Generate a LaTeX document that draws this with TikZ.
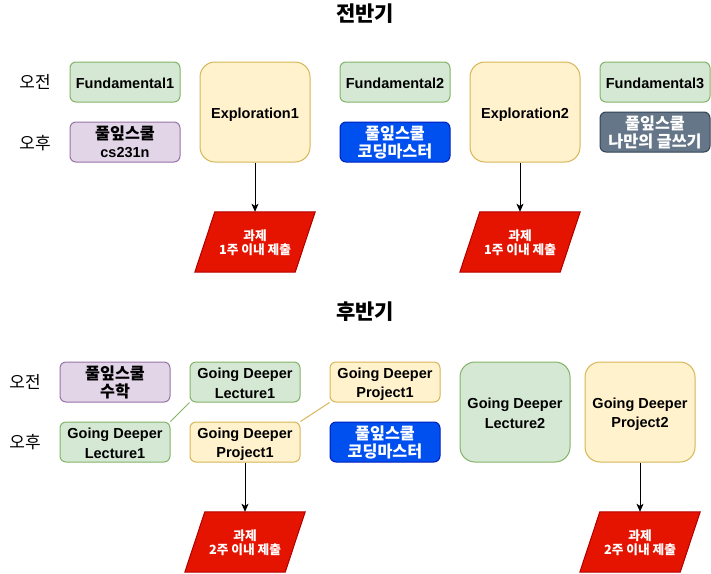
\documentclass[tikz,border=0pt]{standalone}
\usepackage{fontspec}
\setmainfont{Liberation Sans}
\newfontfamily\kr{Noto Sans CJK KR}
\usetikzlibrary{arrows.meta,calc,backgrounds}
\definecolor{gfill}{HTML}{D5E8D4}\definecolor{gline}{HTML}{82B366}
\definecolor{pfill}{HTML}{E1D5E7}\definecolor{pline}{HTML}{9673A6}
\definecolor{yfill}{HTML}{FFF2CC}\definecolor{yline}{HTML}{D6B656}
\definecolor{bfill}{HTML}{0050EF}\definecolor{bline}{HTML}{001DBC}
\definecolor{sfill}{HTML}{647687}\definecolor{sline}{HTML}{314354}
\definecolor{rfill}{HTML}{E51400}\definecolor{rline}{HTML}{B20000}
\newcommand{\sT}{\rule[-2.2pt]{0pt}{17.4pt}}
\newcommand{\sK}{\rule[-1.2pt]{0pt}{14pt}}
\newcommand{\hk}{\kr\fontsize{16.2}{17.5}\selectfont}
\tikzset{
  box/.style={draw, line width=1pt, rounded corners=6pt, align=center, inner sep=0pt,
    font=\bfseries\fontsize{14.5}{17.5}\selectfont, text=black,
    minimum width=110pt, minimum height=40pt},
  bigbox/.style={minimum height=100pt, rounded corners=15pt},
  gbox/.style={box, fill=gfill, draw=gline},
  pbox/.style={box, fill=pfill, draw=pline},
  ybox/.style={box, fill=yfill, draw=yline},
  bbox/.style={box, fill=bfill, draw=bline, text=white},
  sbox/.style={box, fill=sfill, draw=sline, text=white},
  task/.style={inner sep=0pt, minimum width=120pt, minimum height=60pt, align=center,
    text=white, font=\kr\bfseries\fontsize{12.7}{14}\selectfont},
  taskshape/.style={fill=rfill, draw=rline, line width=1pt},
  arr/.style={line width=1pt, -{Stealth[length=8pt,width=7pt,inset=2pt]}},
  lbl/.style={font=\kr\fontsize{17}{19}\selectfont, inner sep=0pt},
  ttl/.style={font=\kr\bfseries\fontsize{21}{24}\selectfont, inner sep=0pt},
}
\newcommand{\para}[1]{%
  \begin{scope}[on background layer]
    \draw[taskshape] ($(#1.north west)+(20,0)$) -- (#1.north east)
      -- ($(#1.south east)+(-20,0)$) -- (#1.south west) -- cycle;
  \end{scope}}
\begin{document}
\begin{tikzpicture}[x=1pt,y=-1pt]
\useasboundingbox (0,0) rectangle (711,573);
% ---------- first half
\node[ttl] (t1) at (365,14) {전반기};
\node[lbl] (am1) at (35,82) {오전};
\node[lbl] (pm1) at (35,143) {오후};
\node[gbox] (f1) at (125,82) {\sT Fundamental1};
\node[pbox] (cs) at (125,142) {\sT\hk 풀잎스쿨\\\sT cs231n};
\node[ybox,bigbox] (e1) at (255,112) {\sT Exploration1};
\node[gbox] (f2) at (395,82) {\sT Fundamental2};
\node[bbox] (cm1) at (395,142) {\sT\hk 풀잎스쿨\\\sT\hk 코딩마스터};
\node[ybox,bigbox] (e2) at (525,112) {\sT Exploration2};
\node[gbox] (f3) at (655,82) {\sT Fundamental3};
\node[sbox] (wr) at (655,132) {\sT\hk 풀잎스쿨\\\sT\hk 나만의 글쓰기};
\node[task] (h1) at (255,242) {\sK 과제\\\sK\kr 1주 이내 제출};
\para{h1}
\node[task] (h2) at (520,242) {\sK 과제\\\sK\kr 1주 이내 제출};
\para{h2}
\draw[arr] (e1.south) -- (h1.north);
\draw[arr] (h2.north |- e2.south) -- (h2.north);
% ---------- second half
\node[ttl] (t2) at (365,312) {후반기};
\node[lbl] (am2) at (25,382) {오전};
\node[lbl] (pm2) at (25,442) {오후};
\node[pbox] (math) at (115,382) {\sT\hk 풀잎스쿨\\\sT\hk 수학};
\node[gbox] (gl1a) at (245,382) {\sT Going Deeper\\\sT Lecture1};
\node[gbox] (gl1b) at (115,442) {\sT Going Deeper\\\sT Lecture1};
\node[ybox] (gp1b) at (245,442) {\sT Going Deeper\\\sT Project1};
\node[ybox] (gp1a) at (385,382) {\sT Going Deeper\\\sT Project1};
\node[bbox] (cm2) at (385,442) {\sT\hk 풀잎스쿨\\\sT\hk 코딩마스터};
\node[gbox,bigbox] (gl2) at (515,412) {\sT Going Deeper\\\sT Lecture2};
\node[ybox,bigbox] (gp2) at (640,412) {\sT Going Deeper\\\sT Project2};
\draw[gline, line width=1pt] (gl1a.south west) -- (gl1b.north east);
\draw[yline, line width=1pt] (gp1a.south west) -- (gp1b.north east);
\node[task] (h3) at (245,542) {\sK 과제\\\sK\kr 2주 이내 제출};
\para{h3}
\node[task] (h4) at (640,542) {\sK 과제\\\sK\kr 2주 이내 제출};
\para{h4}
\draw[arr] (gp1b.south) -- (h3.north);
\draw[arr] (gp2.south) -- (h4.north);
\end{tikzpicture}
\end{document}
